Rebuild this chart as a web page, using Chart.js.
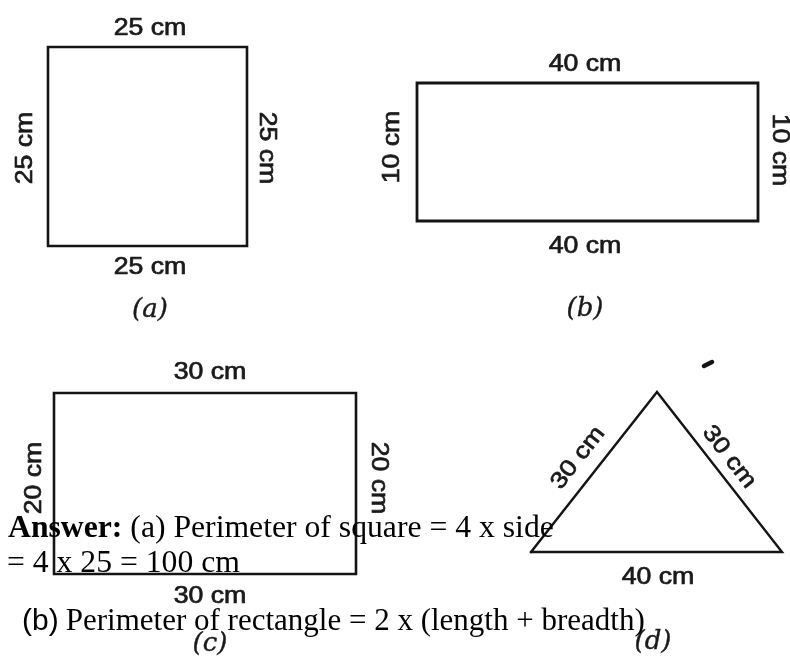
<!DOCTYPE html>
<html><head><meta charset="utf-8">
<script src="https://cdn.jsdelivr.net/npm/chart.js@4.4.1/dist/chart.umd.min.js"></script>
<style>html,body{margin:0;padding:0;background:#fff;overflow:hidden}#wrap{width:790px;height:660px;position:relative}</style>
</head><body><div id="wrap"><canvas id="c" width="790" height="660"></canvas></div>
<script>
// ---- data (diagram units; y grows downward) ----
const figureNames = ['(a)', '(b)', '(c)', '(d)'];
const squareA    = [{x:48,y:47},{x:247,y:47},{x:247,y:246},{x:48,y:246},{x:48,y:47}];
const rectB      = [{x:417,y:83},{x:758,y:83},{x:758,y:221},{x:417,y:221},{x:417,y:83}];
const rectC      = [{x:54,y:393},{x:356,y:393},{x:356,y:574},{x:54,y:574},{x:54,y:393}];
const triangleD  = [{x:531,y:552},{x:657,y:392},{x:782,y:552},{x:531,y:552}];
const stray      = [{x:704,y:366},{x:712,y:362}];
const sideLabelsA = ['25 cm','25 cm','25 cm','25 cm'];
const sideLabelsB = ['40 cm','10 cm','10 cm','40 cm'];
const sideLabelsC = ['30 cm','20 cm','20 cm','30 cm'];
const sideLabelsD = ['30 cm','30 cm','40 cm'];
const answerLines = [
  ['Answer:', ' (a) Perimeter of square = 4 x side'],
  ['= 4 x 25 = 100 cm'],
  ['(b)', ' Perimeter of rectangle = 2 x (length + breadth)']
];

const INK = '#141414';
function ds(data, w, cap){ return {data, showLine:true, borderColor:INK, borderWidth:w, pointRadius:0, tension:0, fill:false, clip:false, borderJoinStyle:'miter', borderCapStyle:cap||'square'}; }

const textPlugin = {
  id:'diagramText',
  afterDraw(chart){
    const ctx = chart.ctx, xs = chart.scales.x, ys = chart.scales.y;
    const P = (x,y)=>[xs.getPixelForValue(x), ys.getPixelForValue(y)];
    const SANS = '23px "Liberation Sans", Arial, sans-serif';
    function lab(t, x, y, rot, font, sx, stroke){
      const [px,py] = P(x,y);
      ctx.save(); ctx.translate(px,py); ctx.rotate(rot*Math.PI/180);
      ctx.scale(sx||1.16, 1);
      ctx.font = font || SANS; ctx.fillStyle = '#1a1a1a'; ctx.strokeStyle = '#1a1a1a';
      ctx.textAlign='center'; ctx.textBaseline='middle';
      ctx.fillText(t,0,0);
      if (stroke !== 0) { ctx.lineWidth = stroke || 0.7; ctx.strokeText(t,0,0); }
      ctx.restore();
    }
    // (a)
    lab(sideLabelsA[0],150,29,0); lab(sideLabelsA[1],26,148,-90); lab(sideLabelsA[2],266,148,90); lab(sideLabelsA[3],150,268,0);
    // (b)
    lab(sideLabelsB[0],585,65,0); lab(sideLabelsB[1],393,147,-90); lab(sideLabelsB[2],779,150,90); lab(sideLabelsB[3],585,247,0);
    // (c)
    lab(sideLabelsC[0],210,373,0); lab(sideLabelsC[1],35,478,-90); lab(sideLabelsC[2],378,478,90); lab(sideLabelsC[3],210,597,0);
    // (d)
    lab(sideLabelsD[0],578,458,-52); lab(sideLabelsD[1],729,457,52); lab(sideLabelsD[2],658,578,0);
    // captions
    const CAP = 'italic 26px "DejaVu Serif", "Liberation Serif", serif';
    lab(figureNames[0],150,310,0,CAP,1,0.4); lab(figureNames[1],585,309,0,CAP,1,0.4);
    lab(figureNames[2],210,644,0,CAP,1,0.4); lab(figureNames[3],653,642,0,CAP,1,0.4);
    // answer text
    ctx.save(); ctx.fillStyle='#000'; ctx.textBaseline='alphabetic'; ctx.textAlign='left';
    const SERIF1 = '31.7px "Liberation Serif", "Times New Roman", serif';
    const SERIF3 = '31px "Liberation Serif", "Times New Roman", serif';
    let [x1,y1] = P(8,537);
    ctx.font = 'bold ' + SERIF1; ctx.fillText(answerLines[0][0], x1, y1);
    let w = ctx.measureText(answerLines[0][0]).width;
    ctx.font = SERIF1; ctx.fillText(answerLines[0][1], x1+w, y1);
    let [x2,y2] = P(7,572);
    ctx.fillText(answerLines[1][0], x2, y2);
    let [x3,y3] = P(22,630);
    ctx.font = '30px "Liberation Sans", Arial, sans-serif'; ctx.fillText(answerLines[2][0], x3, y3);
    let [x4] = P(58,0);
    ctx.font = SERIF3; ctx.fillText(answerLines[2][1], x4, y3);
    ctx.restore();
  }
};

new Chart(document.getElementById('c'), {
  type:'scatter',
  data:{datasets:[ds(squareA,2.6), ds(rectB,2.8), ds(rectC,2.6), ds(triangleD,2.4), ds(stray,4.5,'round')]},
  options:{
    responsive:false, animation:false, events:[],
    layout:{padding:0},
    scales:{
      x:{type:'linear', min:0, max:790, display:false},
      y:{type:'linear', min:0, max:660, reverse:true, display:false}
    },
    plugins:{legend:{display:false}, tooltip:{enabled:false}}
  },
  plugins:[textPlugin]
});
</script></body></html>
